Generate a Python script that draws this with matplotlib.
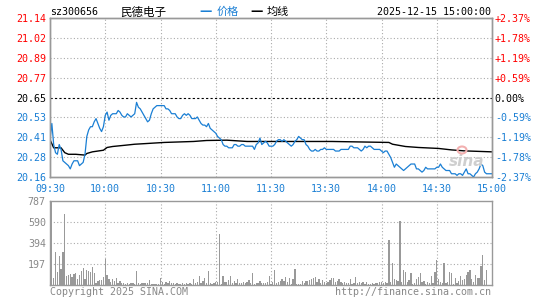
import numpy as np
import matplotlib
matplotlib.use("Agg")
import matplotlib.pyplot as plt
from matplotlib.patches import Ellipse

plt.rcParams['font.family'] = ['DejaVu Sans Mono', 'Noto Sans CJK SC']

code = "sz300656"
name = "民德电子"
stamp = "2025-12-15 15:00:00"
prev_close = 20.65

# one price per minute, 09:30 .. 15:00 (lunch break removed)
price = [
    20.39, 20.49, 20.36, 20.31, 20.30, 20.36, 20.33, 20.26, 20.25, 20.24,
    20.23, 20.21, 20.24, 20.26, 20.26, 20.26, 20.23, 20.24, 20.25, 20.30,
    20.41, 20.45, 20.47, 20.47, 20.50, 20.52, 20.49, 20.46, 20.44, 20.47,
    20.54, 20.56, 20.51, 20.54, 20.55, 20.55, 20.55, 20.57, 20.56, 20.54,
    20.53, 20.53, 20.55, 20.54, 20.53, 20.54, 20.55, 20.62, 20.59, 20.58,
    20.56, 20.54, 20.52, 20.50, 20.51, 20.55, 20.58, 20.59, 20.60, 20.60,
    20.60, 20.60, 20.60, 20.58, 20.58, 20.57, 20.55, 20.55, 20.55, 20.53,
    20.52, 20.52, 20.54, 20.55, 20.54, 20.55, 20.54, 20.52, 20.52, 20.52,
    20.53, 20.51, 20.49, 20.48, 20.48, 20.47, 20.49, 20.46, 20.45, 20.44,
    20.43, 20.41, 20.40, 20.39, 20.36, 20.35, 20.35, 20.34, 20.34, 20.34,
    20.36, 20.36, 20.35, 20.35, 20.36, 20.36, 20.35, 20.35, 20.35, 20.35,
    20.35, 20.33, 20.36, 20.37, 20.40, 20.36, 20.37, 20.38, 20.37, 20.35,
    20.35, 20.35, 20.36, 20.38, 20.39, 20.39, 20.38, 20.39, 20.38, 20.37,
    20.36, 20.35, 20.36, 20.38, 20.39, 20.41, 20.40, 20.39, 20.39, 20.36,
    20.35, 20.33, 20.32, 20.32, 20.33, 20.32, 20.32, 20.33, 20.33, 20.34,
    20.33, 20.33, 20.33, 20.33, 20.33, 20.32, 20.32, 20.32, 20.33, 20.33,
    20.33, 20.33, 20.33, 20.35, 20.35, 20.34, 20.34, 20.34, 20.33, 20.32,
    20.33, 20.35, 20.34, 20.35, 20.35, 20.34, 20.33, 20.33, 20.33, 20.33,
    20.32, 20.31, 20.32, 20.32, 20.30, 20.28, 20.25, 20.22, 20.24, 20.23,
    20.22, 20.21, 20.20, 20.21, 20.22, 20.23, 20.24, 20.24, 20.24, 20.21,
    20.21, 20.20, 20.19, 20.20, 20.22, 20.21, 20.21, 20.21, 20.21, 20.21,
    20.22, 20.22, 20.24, 20.22, 20.21, 20.20, 20.20, 20.20, 20.18, 20.18,
    20.18, 20.17, 20.18, 20.18, 20.17, 20.19, 20.21, 20.18, 20.18, 20.17,
    20.16, 20.18, 20.19, 20.21, 20.24, 20.23, 20.19, 20.18, 20.18, 20.18,
    20.18,
]

avg_min = [0, 2, 6, 8, 10, 14, 19, 20, 23, 26, 29, 31, 34, 41, 46, 52, 62,
           78, 85, 96, 107, 125, 153, 184, 186, 193, 200, 211, 218, 225, 235, 240]
avg_val = [20.39, 20.34, 20.34, 20.31, 20.30, 20.30, 20.295, 20.305, 20.315,
           20.32, 20.325, 20.342, 20.348, 20.356, 20.362, 20.366, 20.373,
           20.379, 20.385, 20.387, 20.379, 20.379, 20.379, 20.373, 20.362,
           20.348, 20.342, 20.336, 20.327, 20.321, 20.317, 20.315]

volume = [
    30, 800, 67, 313, 118, 276, 150, 313, 661, 86,
    93, 99, 77, 99, 108, 52, 93, 130, 156, 52,
    140, 130, 124, 168, 112, 23, 42, 45, 45, 74,
    244, 93, 55, 30, 58, 39, 61, 23, 36, 20,
    20, 14, 23, 14, 20, 23, 14, 130, 17, 14,
    17, 20, 23, 20, 45, 11, 14, 14, 14, 11,
    67, 30, 14, 30, 20, 36, 17, 20, 14, 17,
    14, 14, 17, 14, 17, 14, 17, 14, 52, 23,
    30, 83, 23, 42, 67, 20, 130, 20, 11, 20,
    30, 30, 480, 11, 80, 30, 30, 49, 86, 23,
    36, 20, 55, 23, 23, 30, 20, 27, 45, 23,
    108, 14, 20, 20, 36, 17, 17, 17, 30, 86,
    11, 30, 140, 23, 30, 39, 55, 39, 77, 30,
    67, 14, 55, 150, 11, 11, 11, 36, 20, 42,
    36, 45, 52, 67, 74, 30, 52, 23, 45, 30,
    20, 30, 49, 67, 67, 30, 42, 55, 30, 20,
    30, 20, 20, 55, 14, 23, 77, 20, 30, 20,
    30, 14, 27, 14, 14, 20, 14, 20, 20, 30,
    30, 20, 30, 20, 424, 30, 203, 52, 49, 42,
    604, 30, 140, 118, 30, 49, 112, 14, 20, 55,
    77, 108, 30, 36, 11, 30, 23, 83, 23, 124,
    235, 52, 30, 17, 203, 20, 30, 118, 108, 14,
    61, 20, 36, 86, 45, 55, 93, 118, 140, 55,
    30, 93, 67, 67, 178, 282, 45, 140, 0, 0,
    0,
]

time_ticks = [0, 30, 60, 90, 120, 150, 180, 210, 240]
time_labels = ["09:30", "10:00", "10:30", "11:00", "11:30",
               "13:30", "14:00", "14:30", "15:00"]
price_labels = ["20.16", "20.28", "20.41", "20.53", "20.65",
                "20.77", "20.89", "21.02", "21.14"]
pct_labels = ["-2.37%", "-1.78%", "-1.19%", "-0.59%", "0.00%",
              "+0.59%", "+1.19%", "+1.78%", "+2.37%"]
vol_ticks = [197, 394, 590, 787]
vol_labels = ["197", "394", "590", "787"]

BLUE = "#1a7fd4"
RED = "#ff0000"
GRAY = "#999999"
GRID = "#aaaaaa"
TXT = 7.2

W, H = 545, 300
fig = plt.figure(figsize=(W / 100, H / 100), dpi=100)


def box(x0, y0, x1, y1):
    return [x0 / W, 1 - y1 / H, (x1 - x0) / W, (y1 - y0) / H]


def ftext(x, y, s, **kw):
    fig.text(x / W, 1 - y / H, s, va="center", **kw)


ax = fig.add_axes(box(50, 18, 492, 177))
axv = fig.add_axes(box(50, 201, 492, 285))

levels = np.linspace(20.16, 21.14, len(price_labels))
mins = np.arange(len(price))

# --- price panel ---
for lv in levels[1:-1]:
    if abs(lv - prev_close) < 1e-6:
        ax.axhline(lv, color="black", lw=0.8, ls=(0, (2, 2)), zorder=1)
    else:
        ax.axhline(lv, color=GRID, lw=0.8, ls=(0, (1, 2)), zorder=1)
for t in time_ticks[1:-1]:
    ax.axvline(t, color=GRID, lw=0.8, ls=(0, (1, 2)), zorder=1)

ax.plot(mins, price, color=BLUE, lw=0.9, zorder=3)
ax.plot(avg_min, avg_val, color="black", lw=1.0, zorder=2)

ax.set_xlim(0, 240)
ax.set_ylim(levels[0], levels[-1])
ax.set_xticks(time_ticks, time_labels)
ax.set_yticks(levels, price_labels)
ax.tick_params(axis="x", length=0, pad=5, labelsize=TXT, labelcolor=BLUE)
ax.tick_params(axis="y", length=0, pad=3, labelsize=TXT)

axr = ax.twinx()
axr.set_ylim(levels[0], levels[-1])
axr.set_yticks(levels, pct_labels)
axr.tick_params(axis="y", length=0, pad=2, labelsize=TXT)

for a in (ax, axr):
    for lbl, lv in zip(a.get_yticklabels(), levels):
        if abs(lv - prev_close) < 1e-6:
            lbl.set_color("black")
        elif lv > prev_close:
            lbl.set_color(RED)
        else:
            lbl.set_color(BLUE)
    for sp in a.spines.values():
        sp.set_color(GRAY)
        sp.set_linewidth(1.0)

# sina watermark
ftext(467, 161, "sina", fontsize=11, color="#cfcfcf", fontweight="bold",
      style="italic", family="DejaVu Sans", ha="center", zorder=0)
fig.patches.append(Ellipse((462 / W, 1 - 150 / H), 9 / W, 7 / H,
                           transform=fig.transFigure, facecolor="none",
                           edgecolor="#f2b0b0", lw=1.5))

# --- volume panel ---
for v in vol_ticks[:-1]:
    axv.axhline(v, color=GRID, lw=0.8, ls=(0, (1, 2)), zorder=1)
for t in time_ticks[1:-1]:
    axv.axvline(t, color=GRID, lw=0.8, ls=(0, (1, 2)), zorder=1)
axv.bar(np.arange(len(volume)), volume, width=0.7, color=GRAY,
        linewidth=0, zorder=2)
axv.set_xlim(0, 240)
axv.set_ylim(0, vol_ticks[-1])
axv.set_xticks([])
axv.set_yticks(vol_ticks, vol_labels)
axv.tick_params(axis="y", length=0, pad=3, labelsize=TXT, labelcolor="#888888")
for sp in axv.spines.values():
    sp.set_color(GRAY)
    sp.set_linewidth(1.0)

# --- header / footer ---
ftext(50, 12, code, fontsize=TXT, color="black")
ftext(120, 12, name, fontsize=8.3, color="black", family="Noto Sans CJK SC")
ftext(199, 11, "\u2014", fontsize=9, color=BLUE, fontweight="bold", family="DejaVu Sans")
ftext(217, 12, "价格", fontsize=8, color=BLUE, family="Noto Sans CJK SC")
ftext(250, 11, "\u2014", fontsize=9, color="black", fontweight="bold", family="DejaVu Sans")
ftext(267, 12, "均线", fontsize=8, color="black", family="Noto Sans CJK SC")
ftext(491, 12, stamp, fontsize=TXT, color="black", ha="right")
ftext(50, 292, "Copyright 2025 SINA.COM", fontsize=TXT, color="#888888")
ftext(491, 292, "http://finance.sina.com.cn", fontsize=TXT, color="#888888", ha="right")

fig.savefig("out.png", dpi=100, facecolor="white")
